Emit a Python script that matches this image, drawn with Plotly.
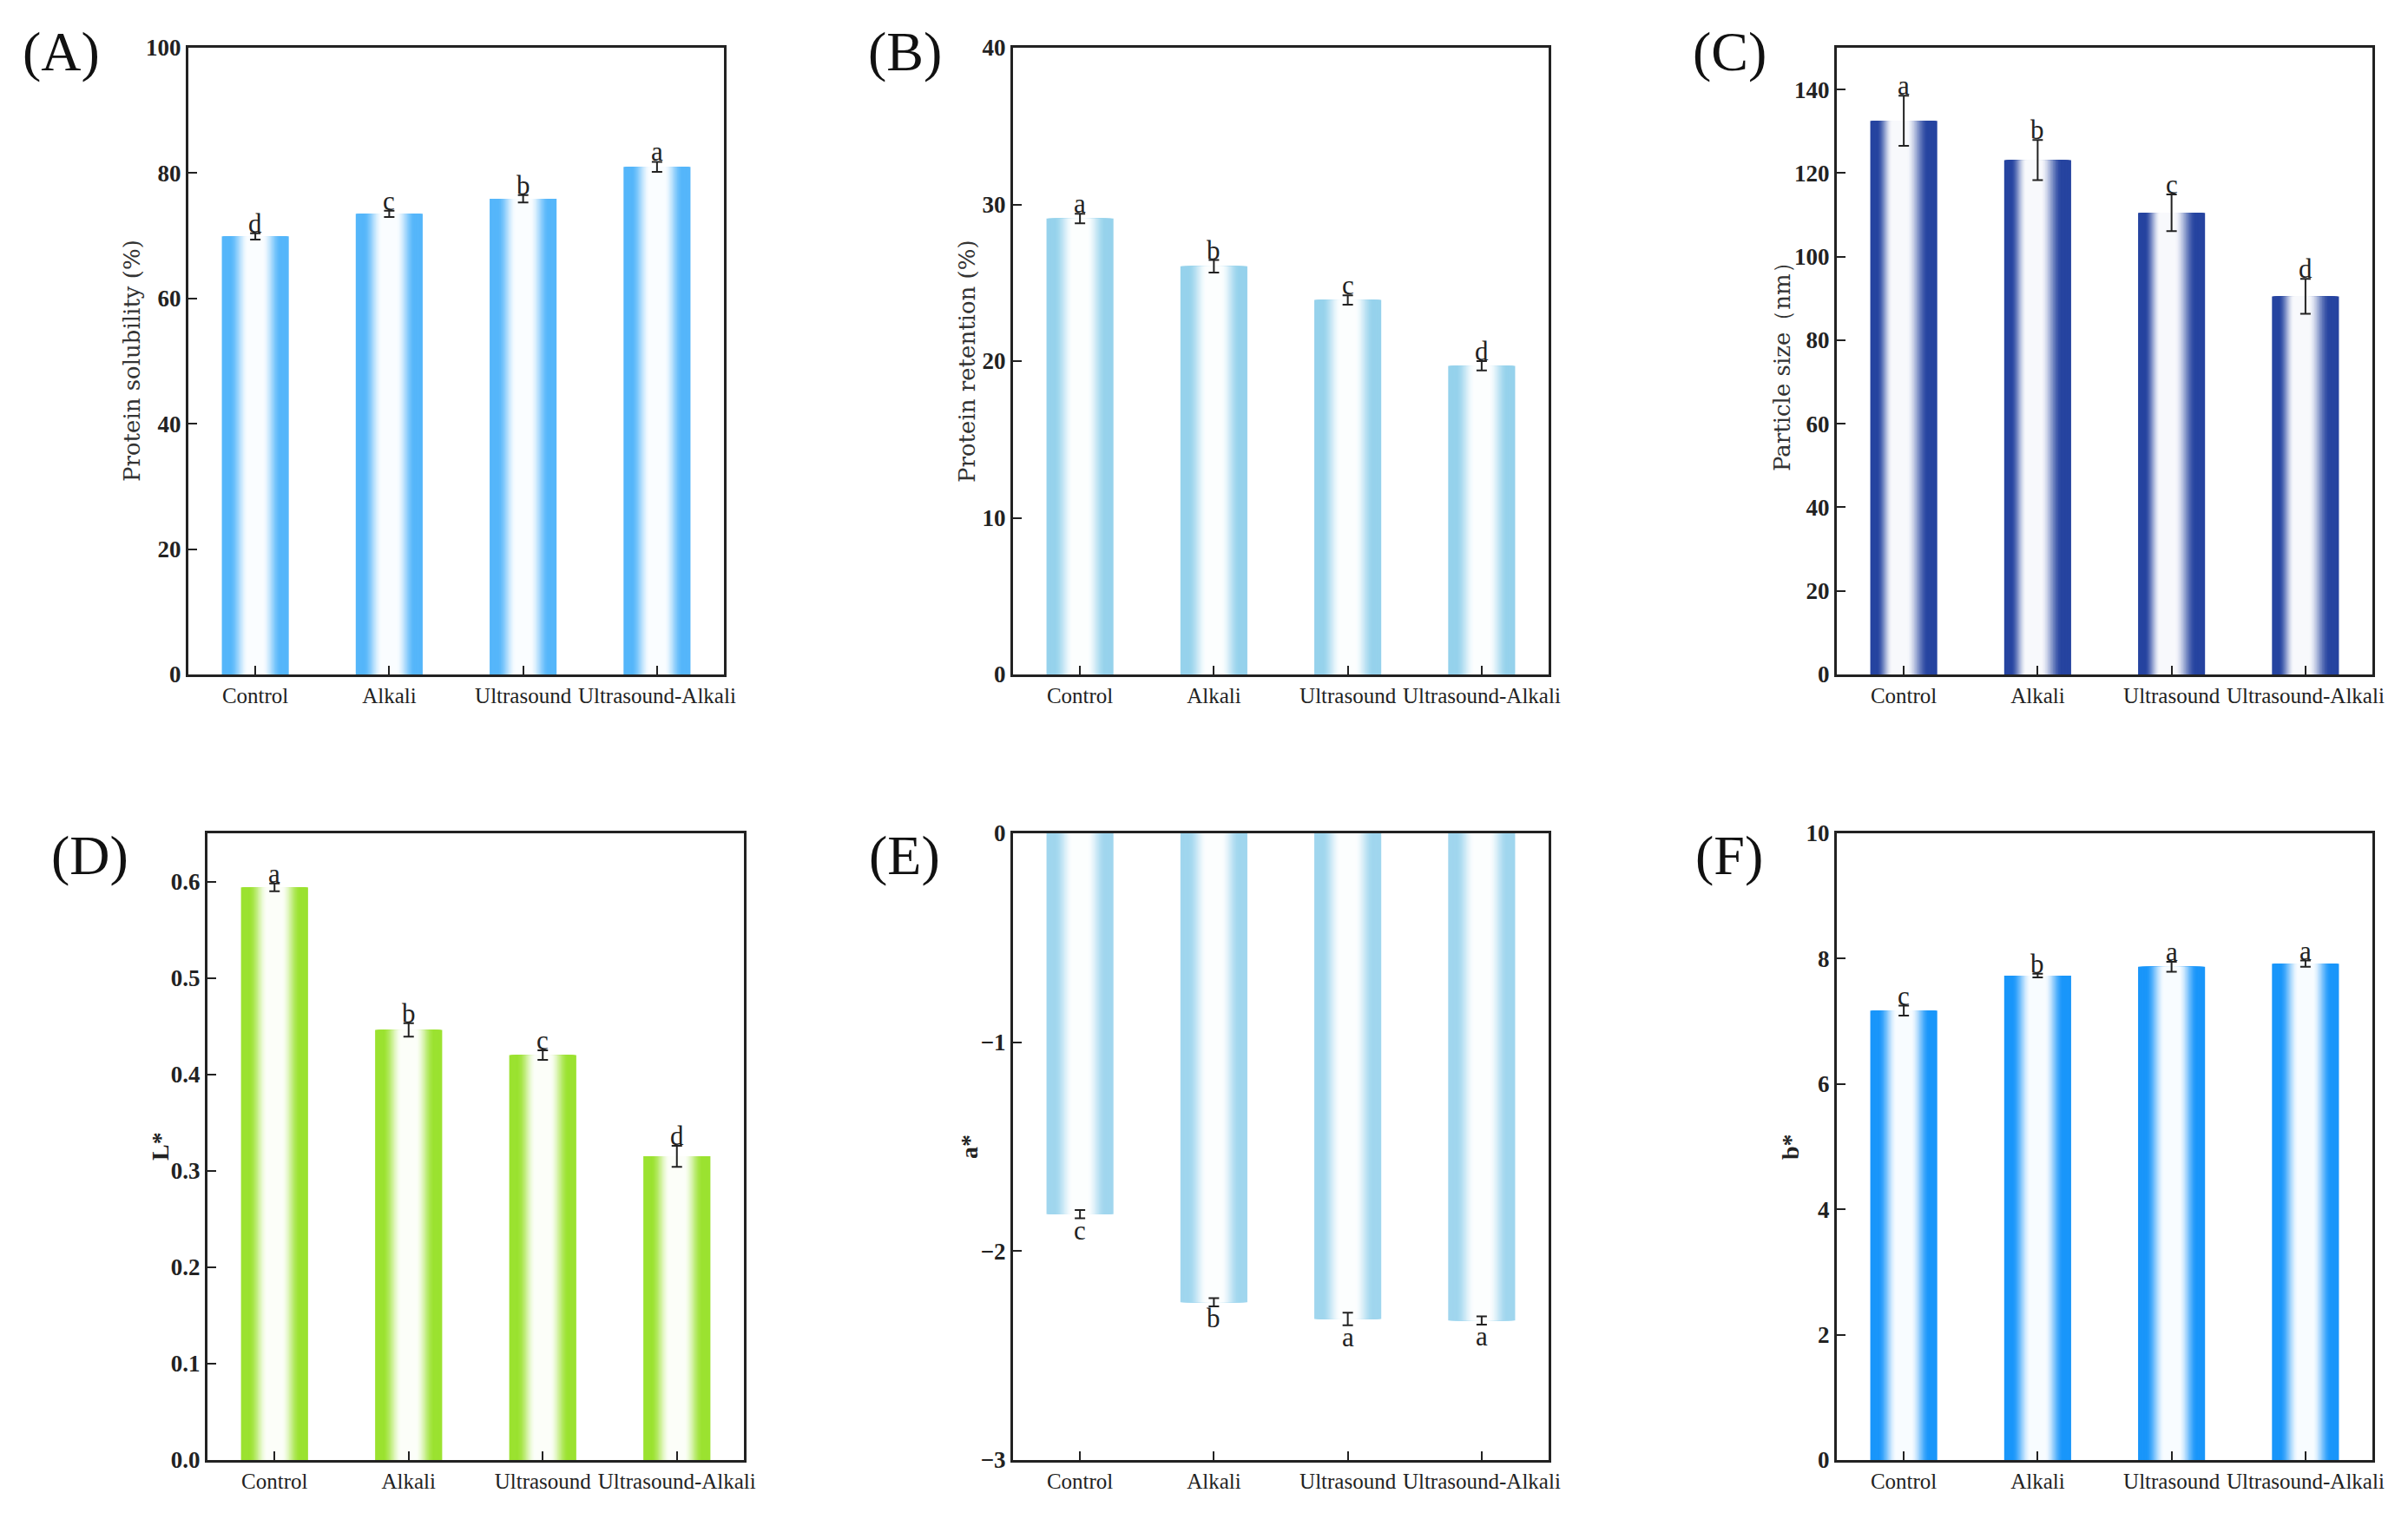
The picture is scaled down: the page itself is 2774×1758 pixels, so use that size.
import plotly.graph_objects as go

categories = ["Control", "Alkali", "Ultrasound", "Ultrasound-Alkali"]

# (A) protein solubility, %
solubility = [69.9, 73.5, 75.9, 81.0]
solubility_err = [0.5, 0.5, 0.6, 0.8]
solubility_letters = ["d", "c", "b", "a"]

# (B) protein retention, %
retention = [29.1, 26.05, 23.9, 19.7]
retention_err = [0.3, 0.4, 0.3, 0.3]
retention_letters = ["a", "b", "c", "d"]

# (C) particle size, nm
particle_size = [132.5, 123.1, 110.5, 90.5]
particle_size_err = [6.0, 4.8, 4.4, 4.2]
particle_size_letters = ["a", "b", "c", "d"]

# (D) L*
l_star = [0.594, 0.446, 0.420, 0.315]
l_star_err = [0.004, 0.007, 0.005, 0.011]
l_star_letters = ["a", "b", "c", "d"]

# (E) a*
a_star = [-1.823, -2.245, -2.325, -2.332]
a_star_err = [0.02, 0.02, 0.03, 0.02]
a_star_letters = ["c", "b", "a", "a"]

# (F) b*
b_star = [7.17, 7.73, 7.87, 7.92]
b_star_err = [0.08, 0.03, 0.08, 0.05]
b_star_letters = ["c", "b", "a", "a"]

# page is 2774x1758; the html body has an 8px margin, so the figure is drawn
# a bit smaller and every pixel position below is shifted by that margin
PAGE_W, PAGE_H = 2774, 1758
PAD = 8
W, H = PAGE_W - 2 * PAD, PAGE_H - 2 * PAD
SERIF = "Liberation Serif"


def px_x(x):
    return (x - PAD) / W


def px_y(y):
    return 1 - (y - PAD) / H


panels = [
    dict(tag="(A)", y=solubility, err=solubility_err, letters=solubility_letters,
         title="Protein solubility (%)", title_bold=False, rng=[0, 100], dtick=20,
         color=(85, 182, 250), white_at=0.5,
         box=(217, 834, 55, 777), tag_xy=(70, 60), title_x=152),
    dict(tag="(B)", y=retention, err=retention_err, letters=retention_letters,
         title="Protein retention (%)", title_bold=False, rng=[0, 40], dtick=10,
         color=(150, 210, 236), white_at=0.5,
         box=(1167, 1784, 55, 777), tag_xy=(1042, 60), title_x=1114),
    dict(tag="(C)", y=particle_size, err=particle_size_err, letters=particle_size_letters,
         title="Particle size（nm）", title_bold=False, rng=[0, 150], dtick=20,
         color=(38, 68, 160), white_at=0.42,
         box=(2116, 2733, 55, 777), tag_xy=(1992, 60), title_x=2053),
    dict(tag="(D)", y=l_star, err=l_star_err, letters=l_star_letters,
         title="L*", title_bold=True, rng=[0, 0.65], dtick=0.1, tickformat=".1f",
         color=(155, 226, 48), white_at=0.5,
         box=(239, 857, 960, 1682), tag_xy=(103, 985), title_x=184),
    dict(tag="(E)", y=a_star, err=a_star_err, letters=a_star_letters,
         title="a*", title_bold=True, rng=[-3, 0], dtick=1,
         color=(160, 214, 238), white_at=0.5,
         box=(1167, 1784, 960, 1682), tag_xy=(1042, 985), title_x=1116),
    dict(tag="(F)", y=b_star, err=b_star_err, letters=b_star_letters,
         title="b*", title_bold=True, rng=[0, 10], dtick=2,
         color=(25, 150, 250), white_at=0.5,
         box=(2116, 2733, 960, 1682), tag_xy=(1992, 985), title_x=2062),
]


def mix(rgb, t):
    r, g, b = (int(round(c + (255 - c) * t)) for c in rgb)
    return f"rgb({r},{g},{b})"


def whiteness(s):
    u = min(max((s - 0.22) / 0.55, 0.0), 1.0)
    return 0.97 * u * u * (3 - 2 * u)


BAR_W = 0.5
LAYERS = 30

fig = go.Figure()
annotations = []

for i, p in enumerate(panels, start=1):
    xa, ya = f"x{i}", f"y{i}"
    x0, x1, y0, y1 = p["box"]

    # nested bars, each a bit narrower and whiter -> horizontal gradient
    for k in range(LAYERS):
        s = k / LAYERS
        left = -BAR_W / 2 + s * BAR_W * p["white_at"]
        right = BAR_W / 2 - s * BAR_W * (1 - p["white_at"])
        fig.add_trace(go.Bar(
            x=categories, y=p["y"], xaxis=xa, yaxis=ya,
            offset=left, width=right - left,
            marker=dict(color=mix(p["color"], whiteness(s)), line=dict(width=0)),
            showlegend=False, hoverinfo="skip",
        ))

    fig.add_trace(go.Scatter(
        x=categories, y=p["y"], xaxis=xa, yaxis=ya, mode="markers",
        marker=dict(size=1, opacity=0),
        error_y=dict(type="data", array=p["err"], color="#222222",
                     thickness=2, width=6),
        showlegend=False, hoverinfo="skip",
    ))

    for c, v, e, letter in zip(categories, p["y"], p["err"], p["letters"]):
        neg = v < 0
        annotations.append(dict(
            x=c, y=v - e if neg else v + e, xref=xa, yref=ya,
            text=letter, showarrow=False,
            yanchor="top" if neg else "bottom", yshift=6 if neg else -8,
            font=dict(family=SERIF, size=31, color="#222222"),
        ))

    annotations.append(dict(
        x=px_x(p["tag_xy"][0]), y=px_y(p["tag_xy"][1]), xref="paper", yref="paper",
        text=p["tag"], showarrow=False, xanchor="center", yanchor="middle",
        font=dict(family=SERIF, size=64, color="#111111"),
    ))
    annotations.append(dict(
        x=px_x(p["title_x"]), y=px_y((y0 + y1) / 2), xref="paper", yref="paper",
        text=f"<b>{p['title']}</b>" if p["title_bold"] else p["title"],
        textangle=-90, showarrow=False, xanchor="center", yanchor="middle",
        font=dict(family=SERIF if p["title_bold"] else "DejaVu Serif",
                  size=28 if p["title_bold"] else 26,
                  color="#222222" if p["title_bold"] else "#333333"),
    ))

    axis_common = dict(
        showline=True, linewidth=3, linecolor="#222222", mirror=True,
        ticks="inside", ticklen=10, tickwidth=2, tickcolor="#222222",
        showgrid=False, zeroline=False, fixedrange=True, automargin=False,
    )
    fig.update_layout({
        f"xaxis{i}": dict(
            domain=[px_x(x0), px_x(x1)], anchor=ya, type="category",
            range=[-0.5, 3.5], tickangle=0,
            tickfont=dict(family=SERIF, size=25, color="#222222"),
            **axis_common,
        ),
        f"yaxis{i}": dict(
            domain=[px_y(y1), px_y(y0)], anchor=xa,
            range=p["rng"], dtick=p["dtick"], tick0=0,
            tickformat=p.get("tickformat", ""),
            tickfont=dict(family=SERIF, size=27, color="#222222", weight="bold"),
            **axis_common,
        ),
    })

fig.update_layout(
    width=W, height=H,
    margin=dict(l=0, r=0, t=0, b=0),
    barmode="overlay",
    paper_bgcolor="white", plot_bgcolor="white",
    showlegend=False,
    annotations=annotations,
)

fig.write_html("out.html")
